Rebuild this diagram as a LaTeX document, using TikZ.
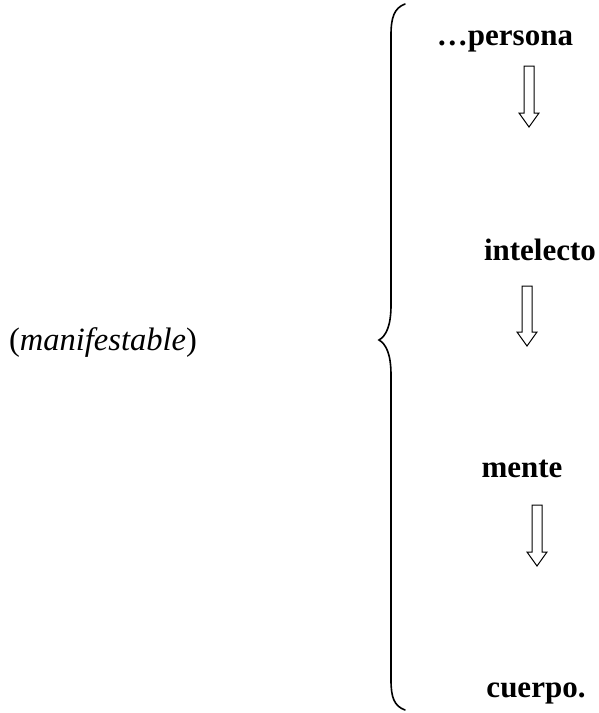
\documentclass[tikz,border=0pt]{standalone}
\usepackage{fontspec}
\setmainfont{Liberation Serif}
\tikzset{
  word/.style={font=\fontsize{31}{36}\selectfont\bfseries, inner sep=0pt, anchor=base},
  side/.style={font=\fontsize{32.5}{38}\selectfont, inner sep=0pt, anchor=base},
  brace/.style={line width=1.6pt, line cap=round},
  blockarrow/.style={line width=1pt, line join=miter}
}
\newcommand{\blockarr}[3]{% x, top y, tip y
  \draw[blockarrow] (#1-5,#2) -- (#1+5,#2) -- (#1+5,#3-14) -- (#1+10,#3-14) -- (#1,#3) -- (#1-10,#3-14) -- (#1-5,#3-14) -- cycle;
}
\begin{document}
\begin{tikzpicture}[x=1pt,y=-1pt]
\useasboundingbox (0,0) rectangle (598,713);
\node[side] (m) at (103,350) {(\textit{manifestable})};
\node[word] (p) at (505,45) {\ldots persona};
\node[word] (i) at (540,260) {intelecto};
\node[word] (me) at (522,477) {mente};
\node[word] (c) at (536,697) {cuerpo.};
\coordinate (btop) at (405,4);
\coordinate (bmid) at (379,340);
\coordinate (bbot) at (405,710);
\draw[brace] (btop) .. controls (394,8) and (391,18) .. (391,35) -- (391,305)
  .. controls (391,326) and (386,336) .. (bmid)
  .. controls (386,344) and (391,354) .. (391,375) -- (391,680)
  .. controls (391,697) and (394,706) .. (bbot);
\blockarr{529}{66}{127}
\blockarr{527}{286}{346}
\blockarr{537}{505}{566}
\end{tikzpicture}
\end{document}
